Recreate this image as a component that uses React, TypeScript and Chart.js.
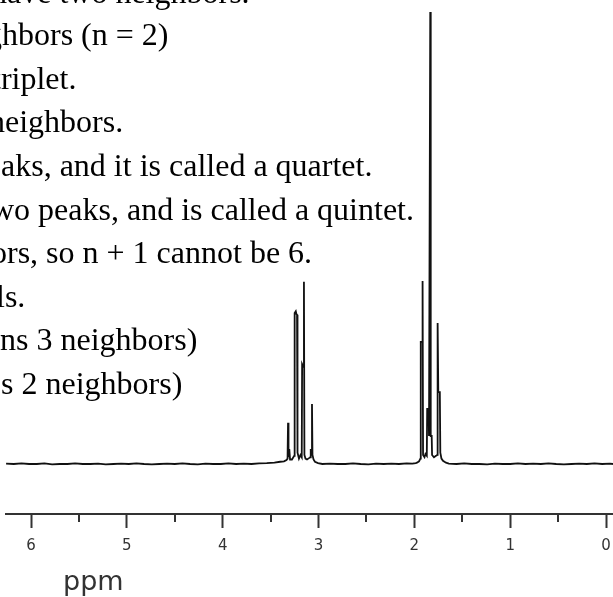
import React, { useEffect, useRef } from "react";
import { Chart, registerables } from "chart.js";

Chart.register(...registerables);

// ---- spectrum data (chemical shift in ppm, relative intensity) ----
const leftBaselinePpm = [6.26, 6.18, 6.1, 6.02, 5.94, 5.86, 5.78, 5.7, 5.62, 5.54, 5.46, 5.38, 5.3, 5.22, 5.14, 5.06, 4.98, 4.9, 4.82, 4.74, 4.66, 4.58, 4.5, 4.42, 4.34, 4.26, 4.18, 4.1, 4.02, 3.94, 3.86, 3.78, 3.7, 3.62, 3.54, 3.46, 3.4];
const leftBaselineInt = [0.1, 0.0, 0.15, 0.0, 0.0, 0.15, -0.1, 0.0, 0.0, 0.15, 0.0, 0.0, 0.1, -0.1, 0.0, 0.1, 0.0, 0.15, 0.0, -0.1, 0.0, 0.1, 0.0, 0.15, 0.0, -0.1, 0.1, 0.0, 0.0, 0.15, 0.0, 0.1, 0.0, 0.15, 0.2, 0.3, 0.5];

const quartetPpm = [3.36, 3.334, 3.323, 3.318, 3.313, 3.305, 3.297, 3.277, 3.254, 3.249, 3.237, 3.231, 3.224, 3.219, 3.204, 3.188, 3.175, 3.171, 3.158, 3.152, 3.147, 3.136, 3.12, 3.099, 3.086, 3.081, 3.075, 3.068, 3.063, 3.052, 3.037, 3.005];
const quartetInt = [0.6, 0.9, 1.2, 9.1, 1.5, 3.3, 1.0, 1.0, 1.8, 33.4, 33.8, 33.2, 33.0, 2.5, 1.2, 2.0, 1.5, 22.1, 21.5, 40.3, 2.0, 1.2, 1.0, 1.3, 1.5, 3.3, 2.2, 13.3, 2.0, 1.0, 0.5, 0.2];

const middleBaselinePpm = [2.96, 2.88, 2.8, 2.72, 2.64, 2.56, 2.48, 2.4, 2.32, 2.24, 2.16, 2.08, 2.02, 1.985];
const middleBaselineInt = [0.0, 0.1, 0.0, 0.0, 0.15, 0.0, -0.1, 0.1, 0.0, 0.1, 0.0, 0.15, 0.1, 0.2];

const tripletPpm = [1.972, 1.951, 1.937, 1.933, 1.92, 1.914, 1.909, 1.894, 1.884, 1.87, 1.866, 1.851, 1.847, 1.839, 1.834, 1.829, 1.819, 1.815, 1.795, 1.774, 1.761, 1.757, 1.75, 1.734, 1.729, 1.717, 1.701, 1.67];
const tripletInt = [0.3, 0.6, 1.2, 27.0, 27.0, 40.5, 2.0, 1.5, 2.2, 1.8, 12.2, 12.2, 6.2, 6.2, 100, 6.2, 6.2, 2.0, 1.5, 1.8, 2.0, 31.2, 15.9, 15.9, 2.5, 1.2, 0.7, 0.3];

const rightBaselinePpm = [1.64, 1.56, 1.48, 1.4, 1.32, 1.24, 1.16, 1.08, 1.0, 0.92, 0.84, 0.76, 0.68, 0.6, 0.52, 0.44, 0.36, 0.28, 0.2, 0.12, 0.04, -0.04, -0.073];
const rightBaselineInt = [0.1, 0.0, 0.15, 0.0, 0.0, -0.1, 0.1, 0.0, 0.0, 0.15, 0.0, 0.1, 0.0, 0.15, 0.0, -0.1, 0.0, 0.1, 0.0, 0.15, 0.0, 0.1, 0.0];

// ---- axis ----
const majorTicks = [0, 1, 2, 3, 4, 5, 6];
const minorTicks = [0.5, 1.5, 2.5, 3.5, 4.5, 5.5];
const axisTitle = "ppm";
const axisTitleAt = 5.35;
const xMin = -0.073;
const xMax = 6.261;
const yMin = -11.06;
const yMax = 102.65;

// ---- overlaid slide text (cut at the left edge) ----
const overlayTexts = [
  "have two neighbors.",
  "ghbors (n = 2)",
  "triplet.",
  "neighbors.",
  "aks, and it is called a quartet.",
  "wo peaks, and is called a quintet.",
  "ors, so n + 1 cannot be 6.",
  "ls.",
  "ns 3 neighbors)",
  "s 2 neighbors)",
];
const overlayX = [-9, -14, -8, -11, 1, -9, -9, -4, 0, 1];
const overlayBaseline = [3, 45, 88.6, 132.2, 175.8, 219.4, 263, 306.6, 350.2, 393.8];

function buildTrace() {
  const pts: { x: number; y: number }[] = [];
  const add = (p: number[], v: number[]) => p.forEach((x, i) => pts.push({ x, y: v[i] }));
  add(leftBaselinePpm, leftBaselineInt);
  add(quartetPpm, quartetInt);
  add(middleBaselinePpm, middleBaselineInt);
  add(tripletPpm, tripletInt);
  add(rightBaselinePpm, rightBaselineInt);
  return pts;
}

const axisExtras = {
  id: "axisExtras",
  afterDraw(chart: any) {
    const xs = chart.scales.x;
    const ctx = chart.ctx;
    ctx.save();
    ctx.strokeStyle = "#333";
    ctx.lineWidth = 2;
    minorTicks.forEach((v) => {
      const px = Math.round(xs.getPixelForValue(v));
      ctx.beginPath();
      ctx.moveTo(px, xs.top);
      ctx.lineTo(px, xs.top + 8);
      ctx.stroke();
    });
    ctx.fillStyle = "#333";
    ctx.font = "27px 'DejaVu Sans'";
    ctx.textAlign = "center";
    ctx.textBaseline = "alphabetic";
    ctx.fillText(axisTitle, xs.getPixelForValue(axisTitleAt), xs.top + 76);
    ctx.restore();
  },
};

export default function App() {
  const ref = useRef<HTMLCanvasElement | null>(null);
  useEffect(() => {
    document.body.style.margin = "0";
    const chart = new Chart(ref.current as HTMLCanvasElement, {
      type: "line",
      data: {
        datasets: [
          {
            data: buildTrace(),
            borderColor: "#111",
            borderWidth: 1.8,
            pointRadius: 0,
            tension: 0,
            fill: false,
          },
        ],
      },
      options: {
        animation: false,
        responsive: false,
        layout: { padding: { left: 6, right: 0, top: 0, bottom: 0 } },
        plugins: { legend: { display: false }, tooltip: { enabled: false } },
        scales: {
          x: {
            type: "linear",
            reverse: true,
            min: xMin,
            max: xMax,
            afterBuildTicks: (s: any) => {
              s.ticks = majorTicks.map((v) => ({ value: v }));
            },
            afterFit: (s: any) => {
              s.height = 83;
            },
            ticks: {
              autoSkip: false,
              maxRotation: 0,
              padding: 9,
              color: "#333",
              font: { family: "'DejaVu Sans'", size: 15 },
              callback: (v: any) => String(v),
            },
            grid: {
              drawOnChartArea: false,
              drawTicks: true,
              tickLength: 14,
              tickColor: "#333",
              tickWidth: 2,
            },
            border: { display: true, color: "#333", width: 2 },
          },
          y: { display: false, min: yMin, max: yMax },
        },
      },
      plugins: [axisExtras],
    });
    return () => chart.destroy();
  }, []);

  return (
    <div style={{ position: "fixed", left: 0, top: 0, width: 613, height: 597, overflow: "hidden", background: "#fff" }}>
      <canvas ref={ref} width={613} height={597} style={{ display: "block" }} />
      {overlayTexts.map((t, i) => (
        <div
          key={i}
          style={{
            position: "absolute",
            left: overlayX[i],
            top: overlayBaseline[i] - 26.8,
            fontFamily: "'Liberation Serif', serif",
            fontSize: 32,
            lineHeight: "32px",
            whiteSpace: "pre",
            color: "#000",
            pointerEvents: "none",
          }}
        >
          {t}
        </div>
      ))}
    </div>
  );
}
